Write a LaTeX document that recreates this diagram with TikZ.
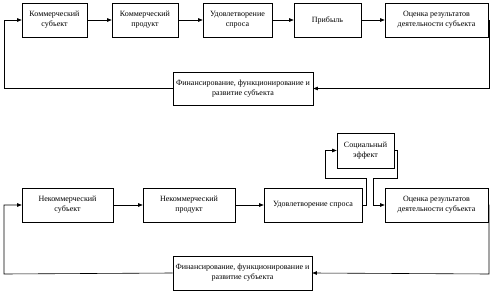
\documentclass[tikz,border=0pt]{standalone}
\usepackage{fontspec}
\setmainfont{Liberation Serif}
\usetikzlibrary{arrows.meta}

\begin{document}
\begin{tikzpicture}[x=1pt, y=-1pt, line width=0.6pt, >={Triangle[length=4.5pt,width=3.5pt]},
    box/.style={draw, fill=white, minimum height=34pt, align=center, inner sep=1pt, font=\fontsize{8}{10}\selectfont}]
  \useasboundingbox (0,0) rectangle (492,291);
  % commercial subject
  \node[box, minimum width=65pt] (ks) at (54.5,20) {Коммерческий\\ субъект};
  \node[box, minimum width=66pt] (kp) at (145,20) {Коммерческий\\ продукт};
  \node[box, minimum width=69pt] (ud) at (237.5,20) {Удовлетворение\\ спроса};
  \node[box, minimum width=67pt] (pr) at (327.5,20) {Прибыль};
  \node[box, minimum width=103pt] (oc) at (436.5,20) {Оценка результатов\\ деятельности субъекта};
  \node[box, minimum width=140pt, minimum height=33pt] (fin) at (243,88.5) {Финансирование, функционирование и\\ развитие субъекта};
  \draw[->] (ks) -- (kp);
  \draw[->] (kp) -- (ud);
  \draw[->] (ud) -- (pr);
  \draw[->] (pr) -- (oc);
  \coordinate (r1) at (489,88.5);
  \coordinate (l1) at (4,88.5);
  \draw[->] (oc.east) -| (r1) -- (fin.east);
  \draw[->] (fin.west) -- (l1) |- (ks.west);
  % non-commercial subject
  \node[box, minimum width=57pt, minimum height=35pt] (soc) at (365.5,150.5) {Социальный\\ эффект};
  \node[box, minimum width=91pt] (ns) at (67.5,205) {Некоммерческий\\ субъект};
  \node[box, minimum width=92pt] (np) at (189,205) {Некоммерческий\\ продукт};
  \node[box, minimum width=98pt] (ud2) at (313,205) {Удовлетворение спроса};
  \node[box, minimum width=103pt] (oc2) at (436.5,205) {Оценка результатов\\ деятельности субъекта};
  \node[box, minimum width=139pt] (fin2) at (242.5,273) {Финансирование, функционирование и\\ развитие субъекта};
  \draw[->] (ns) -- (np);
  \draw[->] (np) -- (ud2);
  \coordinate (a1) at (366,178);
  \coordinate (a2) at (325,178);
  \coordinate (b1) at (397,178);
  \coordinate (b2) at (373,178);
  \draw[->] (ud2.east) -| (a1) -- (a2) |- (soc.west);
  \draw[->] (soc.east) -| (b1) -- (b2) |- (oc2.west);
  \coordinate (r2) at (489,274);
  \coordinate (l2) at (4,274);
  \draw[->] (oc2.east) -| (r2) -- (fin2.east);
  \draw[->] (fin2.west) -- (l2) |- (ns.west);
\end{tikzpicture}
\end{document}
